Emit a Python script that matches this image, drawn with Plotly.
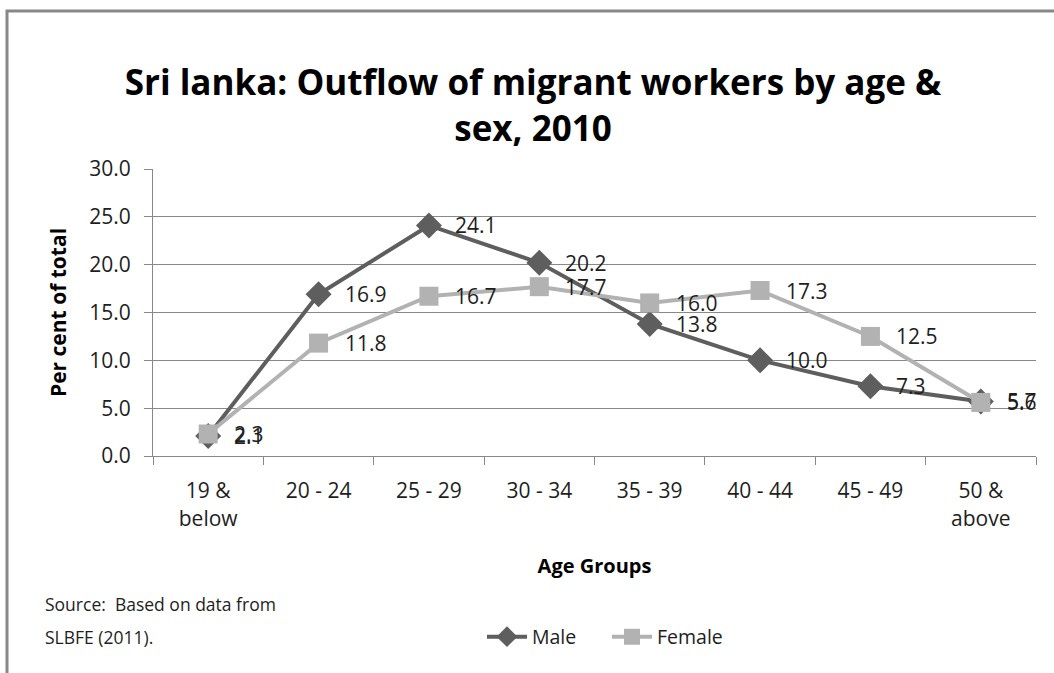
import plotly.graph_objects as go

# Outflow of Sri Lankan migrant workers by age group and sex, 2010 (% of total)
age_groups = ["19 &<br>below", "20 - 24", "25 - 29", "30 - 34",
              "35 - 39", "40 - 44", "45 - 49", "50 &<br>above"]
male = [2.1, 16.9, 24.1, 20.2, 13.8, 10.0, 7.3, 5.7]
female = [2.3, 11.8, 16.7, 17.7, 16.0, 17.3, 12.5, 5.6]
y_ticks = [0, 5, 10, 15, 20, 25, 30]
source_lines = ["Source:  Based on data from", "SLBFE (2011)."]

FONT = "Open Sans"
MALE_COLOR = "#5e5e5e"
FEMALE_COLOR = "#b2b2b2"
AXIS_COLOR = "#888888"
TEXT_COLOR = "#1e1e1e"

# plot area in pixels (figure is 1054 x 673)
W, H = 1054, 673
L, R, T, B = 153, 18, 169, 217
PW, PH = W - L - R, H - T - B


def px_x(x):
    return (x - L) / PW


def px_y(y):
    return (H - B - y) / PH


fig = go.Figure()

fig.add_trace(go.Scatter(
    x=age_groups, y=male, name="Male", mode="lines+markers",
    line=dict(color=MALE_COLOR, width=4),
    marker=dict(symbol="diamond", size=20, color=MALE_COLOR),
))
fig.add_trace(go.Scatter(
    x=age_groups, y=female, name="Female", mode="lines+markers",
    line=dict(color=FEMALE_COLOR, width=4),
    marker=dict(symbol="square", size=19, color=FEMALE_COLOR),
))

# value labels to the right of each point
for series in (male, female):
    for cat, v in zip(age_groups, series):
        fig.add_annotation(
            x=cat, y=v, text=f"{v:.1f}", showarrow=False,
            xanchor="left", yanchor="middle", xshift=24,
            font=dict(family=FONT, size=21, color=TEXT_COLOR),
        )

# source note, one line per annotation
for i, line in enumerate(source_lines):
    fig.add_annotation(
        xref="paper", yref="paper", x=px_x(43), y=px_y(604 + 33 * i),
        xanchor="left", yanchor="middle", align="left", showarrow=False,
        text=line, font=dict(family=FONT, size=17.5, color=TEXT_COLOR),
    )

# outer chart frame
fig.add_shape(
    type="rect", xref="paper", yref="paper",
    x0=px_x(7), y0=px_y(700), x1=px_x(1080), y1=px_y(11),
    line=dict(color="#888888", width=3), fillcolor="rgba(0,0,0,0)",
    layer="below",
)

fig.update_layout(
    width=W, height=H,
    margin=dict(l=L, r=R, t=T, b=B),
    paper_bgcolor="white", plot_bgcolor="white",
    font=dict(family=FONT, color=TEXT_COLOR),
    title=dict(
        text="Sri lanka: Outflow of migrant workers by age &<br>sex, 2010",
        x=533 / W, xanchor="center", y=1 - 95 / H, yanchor="middle",
        font=dict(family=FONT, size=35, color="black", weight="bold"),
    ),
    showlegend=True,
    legend=dict(
        orientation="h", x=px_x(482), y=px_y(637),
        xanchor="left", yanchor="middle",
        font=dict(family=FONT, size=19.5, color=TEXT_COLOR),
        itemwidth=40, tracegroupgap=0,
        entrywidth=70, entrywidthmode="pixels",
    ),
    xaxis=dict(
        type="category", tickson="boundaries",
        showline=True, linecolor=AXIS_COLOR, linewidth=1,
        ticks="outside", ticklen=8, tickcolor=AXIS_COLOR,
        showgrid=False, zeroline=False, ticklabelstandoff=16,
        tickfont=dict(family=FONT, size=21, color=TEXT_COLOR),
        title=dict(text="Age Groups", standoff=28,
                   font=dict(family=FONT, size=20, color="black", weight="bold")),
        range=[-0.5, len(age_groups) - 0.5],
    ),
    yaxis=dict(
        range=[0, 30], tickvals=y_ticks,
        ticktext=[f"{v:.1f}" for v in y_ticks],
        showline=True, linecolor=AXIS_COLOR, linewidth=1,
        ticks="outside", ticklen=8, tickcolor=AXIS_COLOR,
        showgrid=True, gridcolor=AXIS_COLOR, gridwidth=1,
        zeroline=False, ticklabelstandoff=9,
        tickfont=dict(family=FONT, size=21, color=TEXT_COLOR),
        title=dict(text="Per cent of total", standoff=16,
                   font=dict(family=FONT, size=21, color="black", weight="bold")),
    ),
)

fig.write_html("out.html")
